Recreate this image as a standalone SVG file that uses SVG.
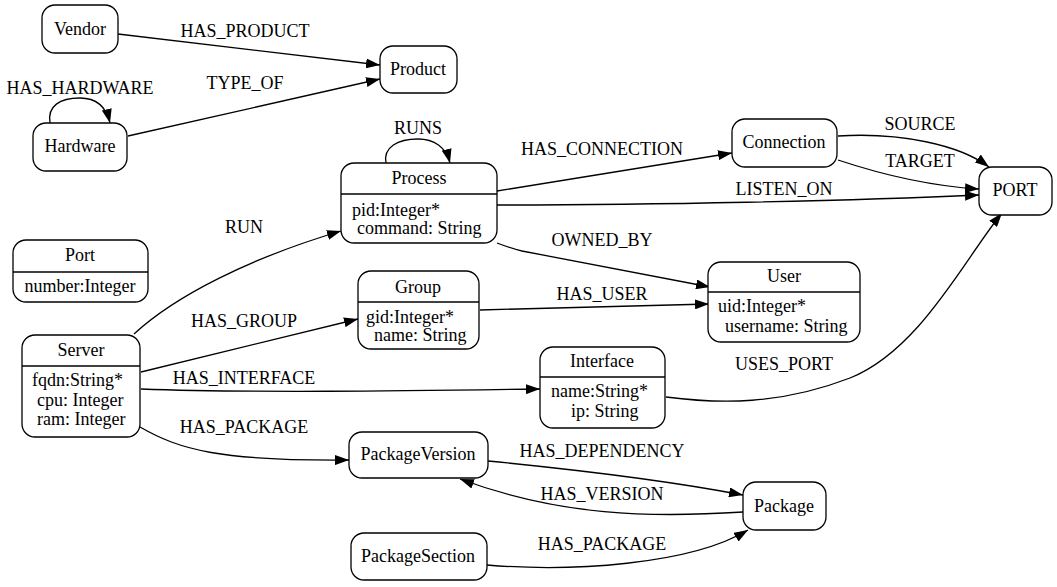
<svg xmlns="http://www.w3.org/2000/svg" width="1057" height="587" viewBox="0 0 1057 587">
<defs>
<marker id="a" viewBox="0 0 14 10" refX="14" refY="5" markerWidth="14" markerHeight="10" markerUnits="userSpaceOnUse" orient="auto">
<path d="M0,0 L14,5 L0,10 z" fill="#000"/>
</marker>
</defs>
<style>
.n rect{fill:#fff;stroke:#000;stroke-width:1.3}
.n line{stroke:#000;stroke-width:1.3}
text{font-family:'Liberation Serif','Times New Roman','DejaVu Serif',serif;font-size:18px;fill:#000}
.c{text-anchor:middle}
.e path{fill:none;stroke:#000;stroke-width:1.3;marker-end:url(#a)}
</style>
<rect width="1057" height="587" fill="#fff"/>
<g id="connectors" class="e" font-family="Liberation Serif, serif">
<path d="M118,34 L380,65"/>
<text class="c" x="245" y="37">HAS_PRODUCT</text>
<path d="M128,136 L380,79"/>
<text class="c" x="245" y="89">TYPE_OF</text>
<path d="M50,123 C47,106 60,98 80,98 C96,98 106,106 110,123"/>
<text class="c" x="80" y="94">HAS_HARDWARE</text>
<path d="M386,163 C383,147 398,139 418,139 C434,139 446,147 450,163"/>
<text class="c" x="418" y="134">RUNS</text>
<path d="M134,334 C175,296 250,258 341,231"/>
<text class="c" x="244" y="233">RUN</text>
<path d="M141,372 L358,319"/>
<text class="c" x="244" y="327">HAS_GROUP</text>
<path d="M141,389 C250,393 400,391 540,389"/>
<text class="c" x="244" y="384">HAS_INTERFACE</text>
<path d="M140,427 C180,450 220,461 349,460"/>
<text class="c" x="244" y="433">HAS_PACKAGE</text>
<path d="M497,191 L732,153"/>
<text class="c" x="602" y="155">HAS_CONNECTION</text>
<path d="M497,205 C650,205 850,201 979,195"/>
<text class="c" x="784" y="195">LISTEN_ON</text>
<path d="M497,243 C505,246 513,249 522,251 L710,287"/>
<text class="c" x="602" y="246">OWNED_BY</text>
<path d="M480,310 L709,304"/>
<text class="c" x="602" y="300">HAS_USER</text>
<path d="M666,397 C720,404 780,405 850,378 C920,350 965,258 1002,213"/>
<text class="c" x="784" y="370">USES_PORT</text>
<path d="M838,136 C900,132 960,145 989,167"/>
<text class="c" x="920" y="130">SOURCE</text>
<path d="M838,160 C880,174 930,186 979,189"/>
<text class="c" x="920" y="167">TARGET</text>
<path d="M488,461 C580,470 680,483 743,495"/>
<text class="c" x="602" y="457">HAS_DEPENDENCY</text>
<path d="M743,512 C650,518 560,516 460,479"/>
<text class="c" x="602" y="500">HAS_VERSION</text>
<path d="M487,565 C570,572 690,565 748,530"/>
<text class="c" x="602" y="550">HAS_PACKAGE</text>
</g>
<g id="vendor" class="n"><rect x="42" y="5" width="76" height="48" rx="13"/><text class="c" x="80" y="35">Vendor</text></g>
<g id="product" class="n"><rect x="380" y="46" width="77" height="47" rx="13"/><text class="c" x="418" y="75">Product</text></g>
<g id="hardware" class="n"><rect x="33" y="123" width="94" height="48" rx="13"/><text class="c" x="80" y="152">Hardware</text></g>
<g id="process" class="n"><rect x="341" y="163" width="156" height="80" rx="13"/><line x1="341" y1="194" x2="497" y2="194"/><text class="c" x="419" y="184">Process</text><text x="352" y="216">pid:Integer*</text><text x="357" y="234">command: String</text></g>
<g id="connection" class="n"><rect x="732" y="119" width="105" height="48" rx="13"/><text class="c" x="784" y="148">Connection</text></g>
<g id="PORT" class="n"><rect x="979" y="167" width="73" height="48" rx="13"/><text class="c" x="1015" y="196">PORT</text></g>
<g id="port" class="n"><rect x="13" y="240" width="135" height="62" rx="13"/><line x1="13" y1="272" x2="148" y2="272"/><text class="c" x="80" y="261">Port</text><text class="c" x="80" y="292">number:Integer</text></g>
<g id="group" class="n"><rect x="358" y="271" width="121" height="78" rx="13"/><line x1="358" y1="302" x2="479" y2="302"/><text class="c" x="418" y="293">Group</text><text x="366" y="323">gid:Integer*</text><text x="374" y="341">name: String</text></g>
<g id="user" class="n"><rect x="708" y="262" width="152" height="80" rx="13"/><line x1="708" y1="292" x2="860" y2="292"/><text class="c" x="784" y="282">User</text><text x="718" y="312">uid:Integer*</text><text x="725" y="332">username: String</text></g>
<g id="server" class="n"><rect x="22" y="335" width="118" height="102" rx="13"/><line x1="22" y1="366" x2="140" y2="366"/><text class="c" x="81" y="356">Server</text><text x="32" y="386">fqdn:String*</text><text x="37" y="406">cpu: Integer</text><text x="37" y="425">ram: Integer</text></g>
<g id="interface" class="n"><rect x="540" y="347" width="125" height="81" rx="13"/><line x1="540" y1="377" x2="665" y2="377"/><text class="c" x="602" y="367">Interface</text><text x="551" y="397">name:String*</text><text x="571" y="417">ip: String</text></g>
<g id="packageversion" class="n"><rect x="349" y="432" width="139" height="46" rx="13"/><text class="c" x="418" y="460">PackageVersion</text></g>
<g id="package" class="n"><rect x="743" y="482" width="83" height="48" rx="13"/><text class="c" x="784" y="512">Package</text></g>
<g id="packagesection" class="n"><rect x="351" y="533" width="136" height="47" rx="13"/><text class="c" x="418" y="562">PackageSection</text></g>
</svg>
